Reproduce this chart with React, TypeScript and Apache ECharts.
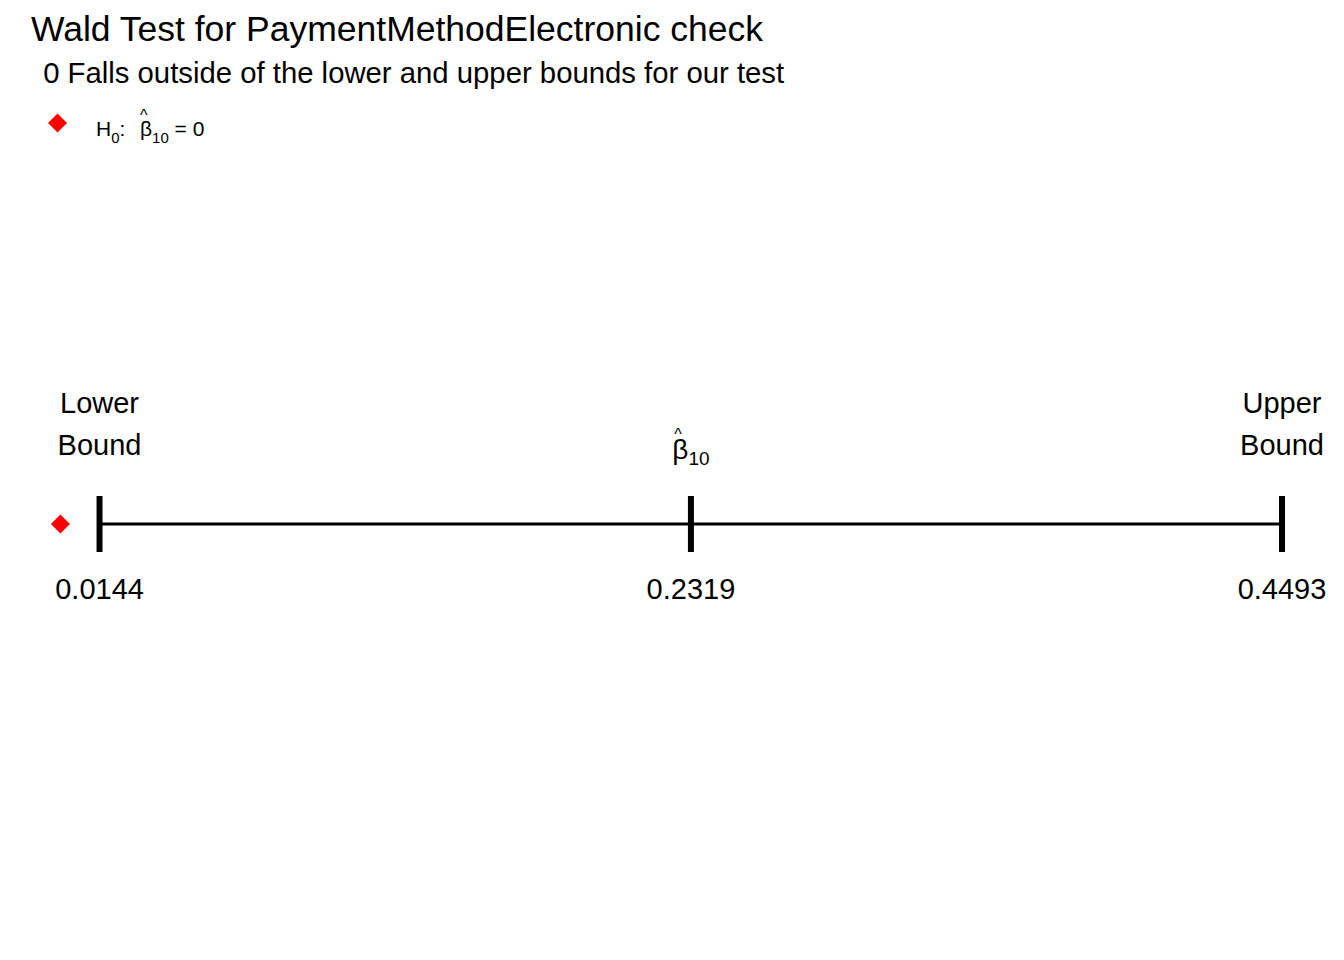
import React, { useEffect, useRef } from "react";
import * as echarts from "echarts";

const titleText = "Wald Test for PaymentMethodElectronic check";
const subtitleText = " 0 Falls outside of the lower and upper bounds for our test";
const intervalValues = [0.0144, 0.2319, 0.4493];
const intervalTopLabels = ["Lower\nBound", "{h|^}\n{b|β}{s|10}", "Upper\nBound"];
const nullValue = 0;
const legendName = "H0";
const legendLabel = "{h|^}\n{a|H}{s|0}{a|:  }{b|β}{s|10}{a| = 0}";

const FONT = "Liberation Sans, Arial, Helvetica, sans-serif";

export default function App() {
  const ref = useRef<HTMLDivElement>(null);
  useEffect(() => {
    if (!ref.current) return;
    const chart = echarts.init(ref.current, null, { renderer: "svg" });
    const option: any = {
      animation: false,
      backgroundColor: "#ffffff",
      title: [
        {
          text: titleText,
          left: 26,
          top: 6,
          textStyle: { fontFamily: FONT, fontSize: 35.5, fontWeight: "normal", color: "#000" },
        },
        {
          text: subtitleText,
          left: 30,
          top: 53,
          textStyle: { fontFamily: FONT, fontSize: 29.3, fontWeight: "normal", color: "#000" },
        },
      ],
      legend: {
        left: 43,
        top: 102,
        itemWidth: 19,
        itemHeight: 19,
        data: [{ name: legendName, icon: "diamond" }],
        formatter: () => legendLabel,
        textStyle: {
          fontFamily: FONT,
          color: "#000",
          padding: [11, 0, 0, 24],
          rich: {
            h: { fontFamily: FONT, fontSize: 16, color: "#000", lineHeight: 6, padding: [0, 0, 0, 44] },
            a: { fontFamily: FONT, fontSize: 21, color: "#000", lineHeight: 27, verticalAlign: "top" },
            b: { fontFamily: FONT, fontSize: 21, color: "#000", lineHeight: 27, verticalAlign: "top", padding: [0, 0, 0, 3] },
            s: { fontFamily: FONT, fontSize: 15, color: "#000", lineHeight: 27, verticalAlign: "bottom" },
          },
        },
      },
      grid: { left: 33.2, right: 32.9, top: 88, bottom: 0 },
      xAxis: { type: "value", min: -0.01, max: 0.46, show: false },
      yAxis: { type: "value", min: -1, max: 1, show: false },
      series: [
        {
          type: "line",
          data: [
            [intervalValues[0], 0],
            [intervalValues[2], 0],
          ],
          showSymbol: false,
          symbol: "none",
          lineStyle: { color: "#000", width: 3 },
          silent: true,
        },
        {
          type: "scatter",
          data: intervalValues.map((v) => [v, 0]),
          symbol: "rect",
          symbolSize: [6, 56],
          itemStyle: { color: "#000", opacity: 1 },
          label: {
            show: true,
            position: "bottom",
            distance: 22,
            formatter: (p: any) => p.value[0].toFixed(4),
            fontFamily: FONT,
            fontSize: 29,
            color: "#000",
          },
        },
        {
          type: "scatter",
          data: intervalValues.map((v, i) =>
            i === 1
              ? { value: [v, 0], label: { distance: 56.5 } }
              : { value: [v, 0] }
          ),
          symbolSize: 0,
          itemStyle: { color: "#000", opacity: 1 },
          label: {
            show: true,
            position: "top",
            distance: 58,
            formatter: (p: any) => intervalTopLabels[p.dataIndex],
            fontFamily: FONT,
            fontSize: 29,
            lineHeight: 42,
            color: "#000",
            align: "center",
            rich: {
              h: { fontFamily: FONT, fontSize: 16, color: "#000", lineHeight: 2, padding: [0, 26, 0, 0] },
              b: { fontFamily: FONT, fontSize: 28, color: "#000", lineHeight: 32.5, verticalAlign: "top" },
              s: { fontFamily: FONT, fontSize: 19, color: "#000", lineHeight: 32.5, verticalAlign: "bottom" },
            },
          },
        },
        {
          name: legendName,
          type: "scatter",
          data: [[nullValue, 0]],
          symbol: "diamond",
          symbolSize: 19,
          itemStyle: { color: "#ff0000", opacity: 1 },
        },
      ],
    };
    chart.setOption(option);
    return () => chart.dispose();
  }, []);
  return (
    <div
      ref={ref}
      style={{ position: "fixed", left: 0, top: 0, width: 1344, height: 960, background: "#fff" }}
    />
  );
}
